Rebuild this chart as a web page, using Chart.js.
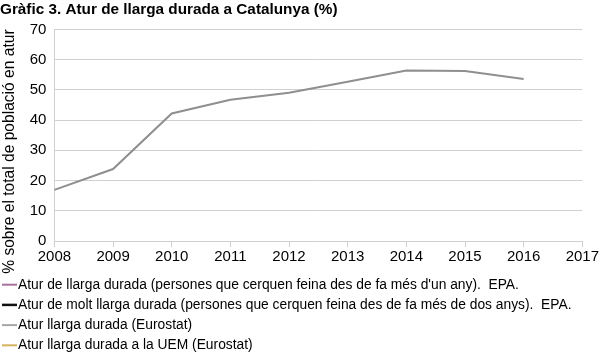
<!DOCTYPE html>
<html>
<head>
<meta charset="utf-8">
<script src="https://cdn.jsdelivr.net/npm/chart.js@4.4.1/dist/chart.umd.min.js"></script>
<style>
  html, body { margin: 0; padding: 0; background: #fff; }
  #wrap { width: 600px; height: 353px; position: relative; }
</style>
</head>
<body>
<div id="wrap"><canvas id="chart"></canvas></div>
<script>
// Years on the x axis
const years = ['2008', '2009', '2010', '2011', '2012', '2013', '2014', '2015', '2016', '2017'];

// Series (only the Eurostat one has values in the picture)
const atur_llarga_epa = [];
const atur_molt_llarga_epa = [];
const atur_llarga_eurostat = [16.9, 23.8, 42.2, 46.7, 49.0, 52.7, 56.4, 56.2, 53.6, null];
const atur_llarga_uem = [];

const seriesNames = [
    "Atur de llarga durada (persones que cerquen feina des de fa més d'un any).  EPA.",
    "Atur de molt llarga durada (persones que cerquen feina des de fa més de dos anys).  EPA.",
    "Atur llarga durada (Eurostat)",
    "Atur llarga durada a la UEM (Eurostat)"
];
const lineColors = ['#a8709a', '#111111', '#8f8f8f', '#d6b25e'];
const swatchColors = ['#a8709a', '#111111', '#a6a6a6', '#d6b25e'];

const FONT = "'Liberation Sans', Arial, sans-serif";

// Legend drawn under the axes, one item per row
const bottomLegend = {
    id: 'bottomLegend',
    afterDraw(chart) {
        const ctx = chart.ctx;
        ctx.save();
        ctx.font = '13.8px ' + FONT;
        ctx.textBaseline = 'middle';
        chart.data.datasets.forEach(function(ds, i) {
            const y = 284.7 + i * 20.2;
            ctx.strokeStyle = swatchColors[i];
            ctx.lineWidth = i === 1 ? 2.5 : 2;
            ctx.beginPath();
            ctx.moveTo(2, y);
            ctx.lineTo(17, y);
            ctx.stroke();
            ctx.fillStyle = '#000';
            ctx.fillText(ds.label, 18, y);
        });
        ctx.restore();
    }
};

const chart = new Chart(document.getElementById('chart').getContext('2d'), {
    type: 'line',
    data: {
        labels: years,
        datasets: [atur_llarga_epa, atur_molt_llarga_epa, atur_llarga_eurostat, atur_llarga_uem].map(function(values, i) {
            return {
                label: seriesNames[i],
                data: values,
                borderColor: lineColors[i],
                borderWidth: 2,
                pointRadius: 0,
                tension: 0,
                fill: false
            };
        })
    },
    options: {
        responsive: true,
        maintainAspectRatio: false,
        animation: false,
        layout: { padding: { left: 0, right: 17, top: 0, bottom: 86 } },
        plugins: {
            legend: { display: false },
            tooltip: { enabled: false },
            title: {
                display: true,
                text: 'Gràfic 3. Atur de llarga durada a Catalunya (%)',
                align: 'start',
                color: '#000',
                font: { family: FONT, size: 15.3, weight: 'bold' },
                padding: { top: 1, bottom: 10 }
            }
        },
        scales: {
            x: {
                offset: false,
                grid: { drawOnChartArea: false, drawTicks: true, tickLength: 6, color: '#d0d0d0' },
                border: { color: '#d0d0d0' },
                ticks: {
                    color: '#000',
                    font: { family: FONT, size: 15 },
                    maxRotation: 0,
                    autoSkip: false,
                    padding: 1
                }
            },
            y: {
                min: 0,
                max: 70,
                grid: { color: '#d0d0d0', drawTicks: false },
                border: { color: '#d0d0d0' },
                ticks: {
                    stepSize: 10,
                    color: '#000',
                    font: { family: FONT, size: 15 },
                    padding: 8
                },
                title: {
                    display: true,
                    align: 'end',
                    text: '% sobre el total de població en atur',
                    color: '#000',
                    font: { family: FONT, size: 15.6 },
                    padding: { top: 0, bottom: 3 }
                }
            }
        }
    },
    plugins: [bottomLegend]
});
</script>
</body>
</html>
